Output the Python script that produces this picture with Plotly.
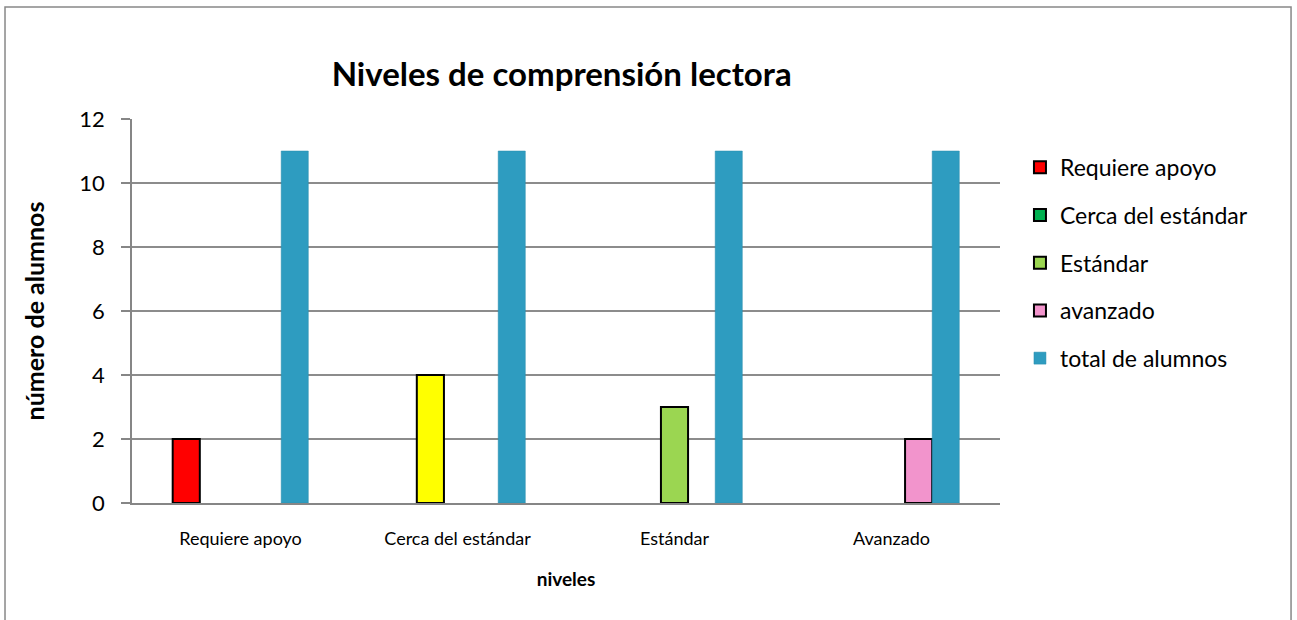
import plotly.graph_objects as go

categories = ["Requiere apoyo", "Cerca del estándar", "Estándar", "Avanzado"]
series_names = ["Requiere apoyo", "Cerca del estándar", "Estándar", "avanzado", "total de alumnos"]
requiere_apoyo = [2, None, None, None]
cerca_estandar = [None, 4, None, None]
estandar = [None, None, 3, None]
avanzado = [None, None, None, 2]
total_alumnos = [11, 11, 11, 11]

FONT = "Lato"

fig = go.Figure()

def add(name, vals, color, border, group):
    fig.add_trace(go.Bar(
        x=categories, y=vals, name=name, legendgroup=group,
        marker=dict(color=color, line=dict(color=border[0], width=border[1])),
    ))

add(series_names[0], requiere_apoyo, "#FF0000", ("#000000", 2), "a")
# legend swatch is green, the single drawn bar is yellow
add(series_names[1], cerca_estandar, ["#00B050", "#FFFF00", "#00B050", "#00B050"], ("#000000", 2), "b")
add(series_names[2], estandar, "#9BD651", ("#000000", 2), "c")
add(series_names[3], avanzado, "#F294CC", ("#000000", 2), "d")
add(series_names[4], total_alumnos, "#2E9CC0", ("#2A8CAD", 0.5), "e")

fig.update_layout(
    width=1297, height=620,
    paper_bgcolor="white", plot_bgcolor="white",
    margin=dict(l=132, r=297, t=119, b=117),
    barmode="group", bargap=0.375, bargroupgap=0,
    font=dict(family=FONT, size=18, color="#000000"),
    title=dict(text="<b>Niveles de comprensión lectora</b>",
               font=dict(family=FONT, size=33, color="#000000"),
               x=0.495, xref="paper", xanchor="center",
               y=1 - 74 / 620, yref="container", yanchor="middle"),
    legend=dict(x=1.023, xanchor="left", y=0.93, yanchor="top",
                font=dict(family=FONT, size=23), tracegroupgap=14.8,
                itemwidth=30, bgcolor="rgba(0,0,0,0)"),
    showlegend=True,
    xaxis=dict(
        showline=True, linecolor="#868686", linewidth=2,
        ticks="", showgrid=False,
        ticklabelstandoff=18,
        tickfont=dict(family=FONT, size=18),
        title=dict(text="<b>niveles</b>", font=dict(family=FONT, size=19), standoff=25),
    ),
    yaxis=dict(
        range=[0, 12], dtick=2, tick0=0,
        showline=True, linecolor="#868686", linewidth=1.5,
        ticks="outside", ticklen=9, tickcolor="#868686", tickwidth=1.5,
        showgrid=True, gridcolor="#8C8C8C", gridwidth=1.5,
        zeroline=False,
        ticklabelstandoff=12,
        tickfont=dict(family=FONT, size=22),
        title=dict(text="<b>número de alumnos</b>", font=dict(family=FONT, size=25), standoff=28),
    ),
    shapes=[dict(type="rect", xref="paper", yref="paper",
                 x0=-0.1463, x1=1.3353, y0=-0.4, y1=1.2917,
                 line=dict(color="#888888", width=1.5), fillcolor="rgba(0,0,0,0)", layer="below")],
)

fig.write_html("out.html", config={"displayModeBar": False},
               post_script="document.body.style.margin='0';")
